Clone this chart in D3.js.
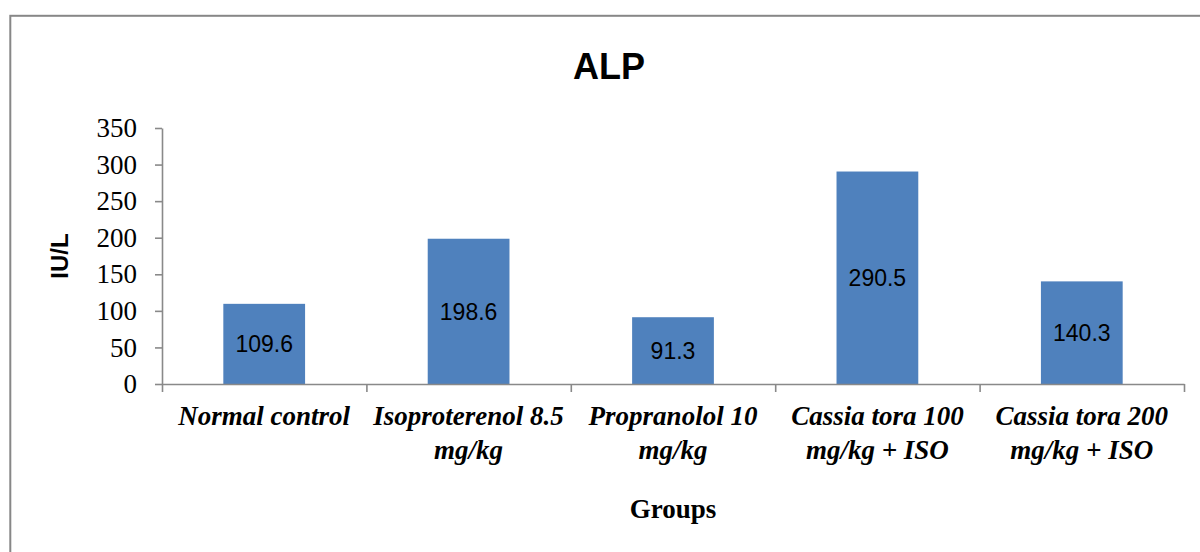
<!DOCTYPE html>
<html>
<head>
<meta charset="utf-8">
<script src="https://cdn.jsdelivr.net/npm/d3@7"></script>
<style>
  html, body { margin: 0; padding: 0; background: #fff; }
  svg { display: block; }
</style>
</head>
<body>
<svg id="chart" width="1200" height="552"></svg>
<script>
// ALP levels (IU/L) per treatment group
const categories = [
  "Normal control",
  "Isoproterenol 8.5 mg/kg",
  "Propranolol 10 mg/kg",
  "Cassia tora 100 mg/kg + ISO",
  "Cassia tora 200 mg/kg + ISO"
];
const categoryLines = [
  ["Normal control"],
  ["Isoproterenol 8.5", "mg/kg"],
  ["Propranolol 10", "mg/kg"],
  ["Cassia tora 100", "mg/kg + ISO"],
  ["Cassia tora 200", "mg/kg + ISO"]
];
const alpValues = [109.6, 198.6, 91.3, 290.5, 140.3];
const yTicks = [0, 50, 100, 150, 200, 250, 300, 350];

const svg = d3.select("#chart");
const axisColor = "#898989";
const barColor = "#4F81BD";

// chart frame
svg.append("rect")
  .attr("x", 10.3).attr("y", 15.8)
  .attr("width", 1400).attr("height", 700)
  .attr("fill", "none")
  .attr("stroke", "#878787")
  .attr("stroke-width", 2);

const plot = { left: 162, right: 1184, top: 128, bottom: 384 };

const y = d3.scaleLinear().domain([0, 350]).range([plot.bottom, plot.top]);
const x = d3.scaleBand().domain(categories).range([plot.left, plot.right]).padding(0);
const xEdge = d3.scaleLinear().domain([0, categories.length]).range([plot.left, plot.right]);

// bars
const barW = x.bandwidth() * 0.4;
svg.append("g").selectAll("rect").data(categories).join("rect")
  .attr("x", (d) => x(d) + (x.bandwidth() - barW) / 2)
  .attr("y", (d, i) => y(alpValues[i]))
  .attr("width", barW)
  .attr("height", (d, i) => y(0) - y(alpValues[i]))
  .attr("fill", barColor);

// value labels, centred inside bars
svg.append("g").selectAll("text").data(categories).join("text")
  .attr("x", d => x(d) + x.bandwidth() / 2)
  .attr("y", (d, i) => (y(alpValues[i]) + y(0)) / 2)
  .attr("dy", "0.36em")
  .attr("text-anchor", "middle")
  .attr("font-family", "'Liberation Sans', Arial, sans-serif")
  .attr("font-size", 23)
  .attr("fill", "#000")
  .text((d, i) => alpValues[i].toFixed(1));

// y axis
const yAxis = svg.append("g")
  .attr("transform", `translate(${plot.left},0)`)
  .call(d3.axisLeft(y).tickValues(yTicks).tickSize(7).tickPadding(18).tickSizeOuter(0));
yAxis.selectAll("path, line").attr("stroke", axisColor).attr("stroke-width", 1.6);
yAxis.selectAll("text")
  .attr("font-family", "'Liberation Serif', 'Times New Roman', serif")
  .attr("font-size", 27)
  .attr("fill", "#000");

// x axis with ticks on category boundaries
const xAxis = svg.append("g")
  .attr("transform", `translate(0,${plot.bottom})`)
  .call(d3.axisBottom(xEdge).tickValues(d3.range(categories.length + 1))
    .tickSize(8).tickSizeOuter(0).tickFormat(""));
xAxis.selectAll("path, line").attr("stroke", axisColor).attr("stroke-width", 1.6);

// category labels
const catG = svg.append("g").selectAll("text").data(categories).join("text")
  .attr("x", d => x(d) + x.bandwidth() / 2)
  .attr("y", 425)
  .attr("text-anchor", "middle")
  .attr("font-family", "'Liberation Serif', 'Times New Roman', serif")
  .attr("font-weight", "bold")
  .attr("font-style", "italic")
  .attr("font-size", 27)
  .attr("fill", "#000");
catG.each(function(d, i) {
  const t = d3.select(this);
  categoryLines[i].forEach((line, k) => {
    t.append("tspan")
      .attr("x", x(d) + x.bandwidth() / 2)
      .attr("dy", k === 0 ? 0 : 34)
      .text(line);
  });
});

// title
svg.append("text")
  .attr("x", 609).attr("y", 79)
  .attr("text-anchor", "middle")
  .attr("font-family", "'Liberation Sans', Arial, sans-serif")
  .attr("font-weight", "bold")
  .attr("font-size", 36)
  .attr("fill", "#000")
  .text("ALP");

// axis titles
svg.append("text")
  .attr("transform", `translate(68,${(plot.top + plot.bottom) / 2}) rotate(-90)`)
  .attr("text-anchor", "middle")
  .attr("font-family", "'Liberation Sans', Arial, sans-serif")
  .attr("font-weight", "bold")
  .attr("font-size", 24)
  .attr("fill", "#000")
  .text("IU/L");

svg.append("text")
  .attr("x", (plot.left + plot.right) / 2).attr("y", 518)
  .attr("text-anchor", "middle")
  .attr("font-family", "'Liberation Serif', 'Times New Roman', serif")
  .attr("font-weight", "bold")
  .attr("font-size", 27)
  .attr("fill", "#000")
  .text("Groups");
</script>
</body>
</html>
